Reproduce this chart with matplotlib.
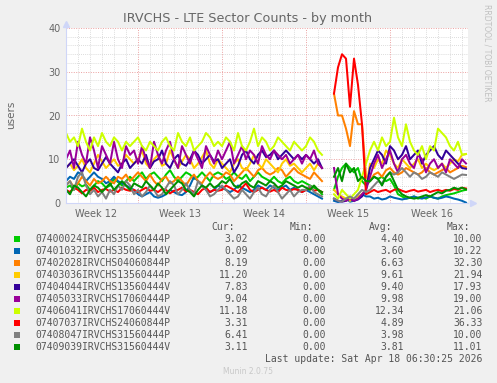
import numpy as np
import matplotlib
matplotlib.use("Agg")
import matplotlib.pyplot as plt
from matplotlib.patches import Rectangle

nan = np.nan
W, H = 497, 383

title = "IRVCHS - LTE Sector Counts - by month"
ylabel = "users"
week_labels = ["Week 12", "Week 13", "Week 14", "Week 15", "Week 16"]
week_label_days = [-3.5, 3.5, 10.5, 17.5, 24.5]
week_start_days = [0, 7, 14, 21]
y_ticks = [0, 10, 20, 30, 40]
x_start, x_step = -6.0, 1.0 / 3.0

names = ["07400024IRVCHS35060444P", "07401032IRVCHS35060444V", "07402028IRVCHS04060844P",
         "07403036IRVCHS13560444P", "07404044IRVCHS13560444V", "07405033IRVCHS17060444P",
         "07406041IRVCHS17060444V", "07407037IRVCHS24060844P", "07408047IRVCHS31560444P",
         "07409039IRVCHS31560444V"]
colors = ["#00CC00", "#0066B3", "#FF8000", "#FFCC00", "#330099", "#990099",
          "#CCFF00", "#FF0000", "#808080", "#008F00"]
cur = ["3.02", "0.09", "8.19", "11.20", "7.83", "9.04", "11.18", "3.31", "6.41", "3.11"]
mins = ["0.00"] * 10
avgs = ["4.40", "3.60", "6.63", "9.61", "9.40", "9.98", "12.34", "4.89", "3.98", "3.81"]
maxs = ["10.00", "10.22", "32.30", "21.94", "17.93", "19.00", "21.06", "36.33", "10.00", "11.01"]

s_green = [3.5, 4, 3, 4.5, 3.8, 4.2, 3, 4, 5, 4.5, 3.5, 4, 5.5, 4.8, 4, 5, 6, 5,
           6, 7, 5.5, 6.5, 7, 6, 5, 6.5, 7.5, 6, 5, 6, 7, 6.5, 5.5, 6, 7, 6, 5, 6.5, 7,
           6.5, 5.5, 6, 7, 6, 5.5, 6.5, 5, 6, 7, 6, 5.5, 5, 6, 5, 4.5, 5.5, 6, 5, 4.5, 5,
           4.5, 4, 3.5, 3, 2, nan, nan,
           3, 6, 8, 9, 8, 7, 8, 5, 4,
           5, 6, 5.5, 6, 5, 5.5, 4, 2, 1.5, 1, 1.2, 1.5, 1, 1.3, 1, 1.5, 1.2, 1, 1.5, 1.8,
           2, 2.2, 2.5, 2.8, 3.02]
s_blue = [5, 6, 5.5, 7, 6.5, 5, 6, 7, 6, 5.5, 4.5, 5, 6, 5, 4.5, 4, 3.5, 3,
          2, 1.5, 2, 2.5, 1.5, 1.2, 1.5, 2, 3, 2.5, 2, 1.8, 2.5, 4, 6, 5, 4, 3, 2.5, 3, 4,
          3.5, 3, 2.5, 3, 4, 3.5, 3, 2.5, 3, 4, 3.5, 3, 4, 3.5, 3, 3.5, 4, 3, 3.5, 3, 2.5,
          3, 2.5, 2, 1.5, 1, nan, nan,
          0.5, 0.2, 0.5, 1, 0.3, 0.5, 1, 2, 1.5,
          1.5, 1, 1.2, 0.8, 1, 1.5, 1.2, 1, 0.8, 1, 1.2, 1.5, 1.2, 1, 1.3, 1.5, 1.2, 1, 1.2, 1.5,
          1.3, 1, 0.8, 0.5, 0.09]
s_orange = [4, 5, 3.5, 4.5, 6, 5, 4, 5.5, 4.5, 5, 6, 5, 4.5, 6, 5.5, 6.5, 5, 6,
            7, 6, 5, 6.5, 5, 4, 5.5, 6, 4.5, 5, 6, 5, 4, 5.5, 6.5, 5, 4.5, 6, 7, 6, 5.5,
            6, 7, 6.5, 5, 6, 7, 8, 7, 6, 7.5, 8, 7, 6.5, 7, 8, 7.5, 6, 7, 8, 7, 6.5,
            6, 5.5, 7, 6, 5, nan, nan,
            25, 20, 20, 17, 13, 21, 18, 18, 6,
            5, 6.5, 7, 6, 7.5, 8, 7, 6.5, 7, 8, 7.5, 7, 6.5, 7, 8, 7, 6.5, 7, 7.5, 8,
            7, 7.5, 8, 8.5, 8.19]
s_gold = [8, 9, 7.5, 8.5, 10, 8, 7, 9, 11, 9.5, 8, 9, 10, 8.5, 9, 11, 10, 9,
          10, 12, 9, 8, 10, 11, 8.5, 9, 12, 10, 8, 9.5, 11, 10, 8, 9, 10.5, 12, 9, 8, 10,
          9, 8, 7, 9, 10, 8, 7.5, 9, 11, 9, 8, 10, 9, 8, 7, 9, 10, 8.5, 9, 8, 7,
          8, 9, 7.5, 9, 8, nan, nan,
          3, 2, 1.5, 1, 0.5, 1, 1.5, 2, 3,
          9, 8, 10, 9, 12, 11, 9, 8, 10, 9, 8, 9, 10, 8, 9, 8, 7.5, 8, 9, 8,
          9, 10, 9.5, 11, 11.2]
s_indigo = [8, 9, 10, 8.5, 7, 9, 10, 8, 7.5, 9, 10.5, 9, 8, 7, 9, 10, 8, 9,
            10, 9, 11, 8, 9.5, 10, 12, 9, 8, 10, 11, 9, 8.5, 10, 12, 11, 9, 10, 11, 9.5, 10,
            8, 9, 10, 7, 8.5, 11, 12, 10, 9, 11, 12, 10.5, 11, 12, 10, 11, 12, 11, 10, 11, 10,
            11, 10, 9, 10, 8, nan, nan,
            1, 0.5, 0.3, 0.5, 1, 0.5, 0.8, 1.5, 3,
            8, 10, 12, 11, 9, 13, 12, 10, 11, 13, 10, 11, 12, 9, 11, 12, 13, 11, 10, 12,
            11, 10, 9, 8, 7.83]
s_purple = [10, 12, 8, 14, 11, 9, 15, 12, 8, 13, 11, 9, 14, 10, 8, 13, 11, 12,
            9, 13, 10, 8, 14, 11, 9, 12, 14, 10, 8, 13, 11, 9, 12, 10, 8, 13, 11, 9, 12,
            10, 12, 14, 9, 11, 13, 10, 12, 11, 9, 13, 11, 10, 12, 11, 10, 11, 9, 10, 11, 9,
            11, 10, 12, 9, 8, nan, nan,
            8, 2, 1, 0.5, 1, 0.5, 1, 2, 3,
            6, 9, 11, 8, 10, 12, 9, 7, 10, 11, 9, 8, 11, 10, 7, 9, 10, 8, 9, 7,
            10, 9, 8, 10, 9.04]
s_lime = [16, 14, 15, 13, 17, 14, 12, 15, 13, 16, 14, 13, 15, 14, 12, 14, 13, 14,
          15, 13, 12, 14, 13, 12, 14, 15, 13, 12, 16, 14, 13, 15, 12, 13, 14, 16, 15, 13, 14,
          13, 15, 14, 12, 16, 13, 12, 14, 17, 13, 15, 14, 12, 13, 15, 14, 13, 12, 14, 13, 12,
          13, 15, 14, 12, 11, nan, nan,
          2, 1, 3, 2, 1, 2, 3, 6, 9,
          12, 14, 12, 15, 13, 14, 19.5, 15, 13, 18, 14, 12, 11, 13, 10, 13, 12, 17, 16, 15,
          13, 12, 14, 11, 11.18]
s_red = [3, 2.5, 3.5, 3, 2.2, 3, 2.8, 3.5, 2.5, 3, 3.2, 2.6, 3, 2.5, 3.5, 3, 2.8, 3,
         2.5, 3, 3.5, 2.8, 3, 2.5, 3.2, 3, 2.2, 2.8, 3, 3.5, 2.6, 3, 2.5, 2, 3, 3.5, 2.5, 3, 2.8,
         3, 4, 3.5, 3, 2.5, 3.5, 4.5, 3, 2.5, 3, 3.5, 3, 2.6, 3, 2.5, 3.5, 3, 2.8, 3.2, 3, 2.5,
         3, 3.5, 2.8, 3, 2.5, nan, nan,
         25, 31, 34, 33, 22, 33, 27, 18, 2,
         2.5, 3, 2.5, 2.8, 3, 2.5, 3, 3.2, 2.8, 2.5, 2.8, 3, 2.6, 2.8, 3, 2.5, 2.8, 3, 2.7, 3,
         2.8, 3.2, 3, 3.5, 3.31]
s_gray = [4, 5, 3, 6, 7, 4, 2, 3, 1.5, 2.5, 1, 3, 2, 4, 3, 5, 4, 2,
          3, 1.5, 2.5, 4, 3, 1.5, 2, 3.5, 5, 4, 2, 3, 4.5, 3, 2, 5, 4, 3, 1.5, 2, 3,
          4, 3, 2, 1, 1.5, 3, 2, 1, 2.5, 3.5, 2, 1.5, 3, 4, 2.5, 1, 2, 3, 1.5, 2.5, 3,
          3, 4, 2.5, 2, 1.5, nan, nan,
          1, 0.5, 0.3, 1, 1.5, 1, 2, 3, 2.5,
          3, 4, 5, 4.5, 6, 7, 6.5, 7, 8, 7, 6, 7, 6.5, 5.5, 6, 7, 6.5, 6, 7, 6.5,
          6, 5.5, 6, 6.5, 6.41]
s_dkgreen = [3, 2, 4, 3.5, 2.5, 1.5, 3, 4, 3.5, 2.5, 3.5, 4.5, 3, 4, 5, 4, 3, 4.5,
             4, 3.5, 5, 4, 3, 4.5, 3.5, 2, 3, 4, 5, 4.5, 3, 2.5, 1.5, 3, 4, 3.5, 4.5, 3.5, 4,
             5, 4.5, 5.5, 4, 3.5, 4.5, 5, 4, 3.5, 5, 4.5, 4, 5, 4.5, 3.5, 4, 5, 4.5, 4, 3.5, 4,
             3.5, 3, 4, 3, 2.5, nan, nan,
             6, 8, 5, 9, 7, 8, 5, 6, 5,
             5, 6, 5.5, 4, 6, 7, 5, 3, 2, 1.5, 1.2, 1, 1.2, 1.5, 1.8, 1.5, 2, 2.5, 2.2, 2.8,
             3, 3.5, 3.2, 3.5, 3.11]

series = [s_green, s_blue, s_orange, s_gold, s_indigo, s_purple, s_lime, s_red, s_gray, s_dkgreen]

FONT = "#666666"
AXIS = "#CFD6F8"

fig = plt.figure(figsize=(W / 100, H / 100), dpi=100, facecolor="#F0F0F0")


def fx(px):
    return px / W


def fy(py):
    return 1 - py / H


ax = fig.add_axes([fx(66), fy(203), 402 / W, 175 / H])
ax.set_facecolor("white")
ax.set_xlim(-6, 27.5)
ax.set_ylim(0, 40)
for sp in ax.spines.values():
    sp.set_visible(False)

# grid
for d in range(-5, 28):
    if d in week_start_days:
        continue
    ax.axvline(d, color="#D0D0D0", lw=0.6, ls=(0, (1, 1.5)), zorder=0)
for v in range(2, 41, 2):
    if v % 10 == 0:
        continue
    ax.axhline(v, color="#D0D0D0", lw=0.6, ls=(0, (1, 1.5)), zorder=0)
for d in week_start_days:
    ax.axvline(d, color="#EBA0A0", lw=0.7, ls=(0, (1, 1.5)), zorder=0.5)
for v in y_ticks[1:]:
    ax.axhline(v, color="#EBA0A0", lw=0.7, ls=(0, (1, 1.5)), zorder=0.5)

for i, (s, c) in enumerate(zip(series, colors)):
    xs = x_start + np.arange(len(s)) * x_step
    ax.plot(xs, s, color=c, lw=1.45, zorder=2 + i, solid_joinstyle="round")

ax.set_xticks(week_label_days)
ax.set_xticklabels(week_labels, fontsize=7, color=FONT)
ax.set_yticks(y_ticks)
ax.set_yticklabels([str(v) for v in y_ticks], fontsize=7, color=FONT)
ax.tick_params(length=0, pad=4)

# axes lines with arrows
ax.plot([-6, 27.5], [0, 0], color=AXIS, lw=0.8, clip_on=False, zorder=20)
ax.plot([-6, -6], [0, 40.8], color=AXIS, lw=0.8, clip_on=False, zorder=20)
ax.plot([27.9], [0], marker=">", color=AXIS, ms=4, clip_on=False, zorder=20)
ax.plot([-6], [41.0], marker="^", color=AXIS, ms=4, clip_on=False, zorder=20)

fig.text(fx(247.8), fy(18.5), title, fontsize=9.2, color=FONT, ha="center", va="center")
fig.text(fx(11), fy(115), ylabel, fontsize=7.5, color=FONT, rotation=90, ha="center", va="center")
fig.text(fx(487), fy(4), "RRDTOOL / TOBI OETIKER", fontsize=5.5, color="#C0C0C0",
         rotation=270, ha="center", va="top")

mono = "DejaVu Sans Mono"
LEG = "#555555"
hdr_y = 227.3
for txt, xr in zip(["Cur:", "Min:", "Avg:", "Max:"], [235.3, 313.5, 392, 470]):
    fig.text(fx(xr), fy(hdr_y), txt, fontsize=7, family=mono, color=LEG, ha="right", va="center")
for i in range(len(names)):
    y = 239.3 + 12 * i
    fig.add_artist(Rectangle((fx(14), fy(y + 3)), 5.5 / W, 6 / H, transform=fig.transFigure,
                             facecolor=colors[i], edgecolor="none"))
    fig.text(fx(35.5), fy(y), names[i], fontsize=7, family=mono, color=LEG, ha="left", va="center")
    for val, xr in zip([cur[i], mins[i], avgs[i], maxs[i]], [248.3, 326, 404.3, 482.7]):
        fig.text(fx(xr), fy(y), val, fontsize=7, family=mono, color=LEG, ha="right", va="center")

fig.text(fx(482.7), fy(359.3), "Last update: Sat Apr 18 06:30:25 2026", fontsize=7, family=mono,
         color=LEG, ha="right", va="center")
fig.text(fx(248), fy(372), "Munin 2.0.75", fontsize=5.5, color="#C8C8C8", ha="center", va="center")

fig.savefig("out.png", dpi=100, facecolor="#F0F0F0")
